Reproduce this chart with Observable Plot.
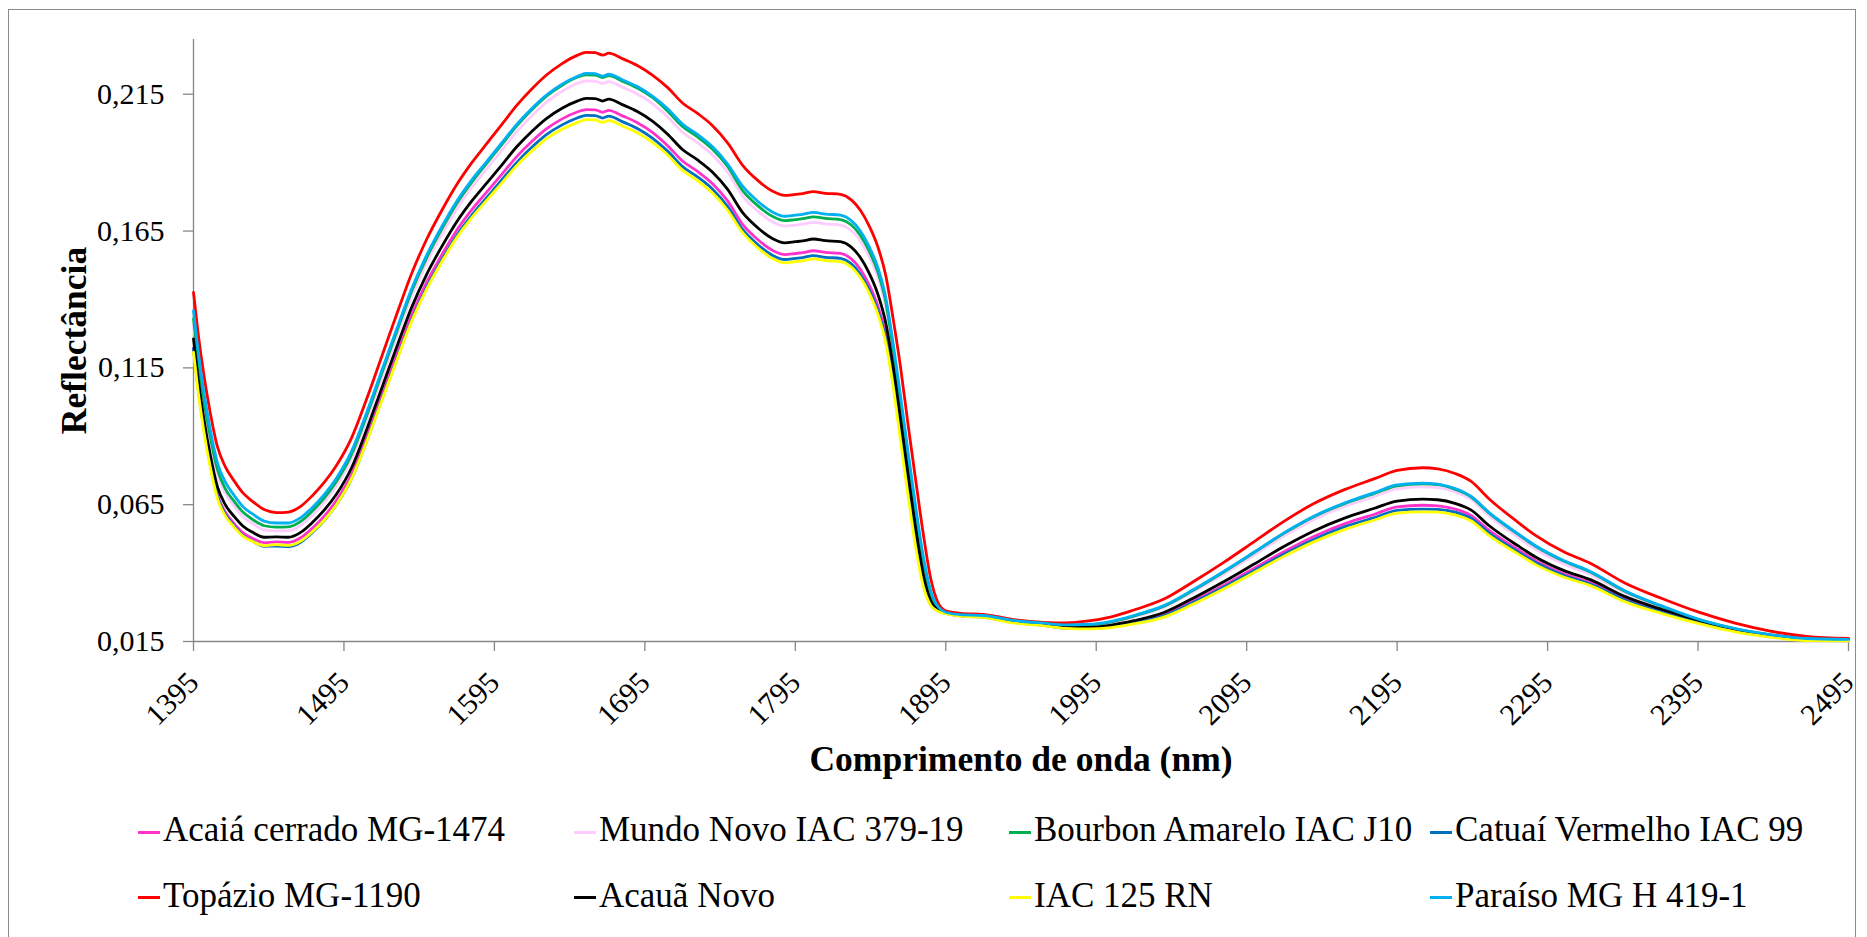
<!DOCTYPE html>
<html><head><meta charset="utf-8">
<script src="https://cdn.jsdelivr.net/npm/d3@7"></script>
<script src="https://cdn.jsdelivr.net/npm/@observablehq/plot@0.6"></script>
<style>
html,body{margin:0;padding:0;background:#fff;}
#wrap{position:relative;width:1867px;height:937px;overflow:hidden;font-family:"Liberation Serif","Times New Roman",serif;background:#fff;}
#frame{position:absolute;left:8px;top:9px;width:1848px;height:990px;border:1px solid #8a8a8a;box-sizing:border-box;pointer-events:none;}
#chart{position:absolute;left:0;top:0;}
.lg{position:absolute;font-size:35px;line-height:40px;white-space:nowrap;color:#000;}
.mk{position:absolute;height:3px;width:22px;}
</style></head>
<body>
<div id="wrap"><div id="chart"></div><div id="legend"></div><div id="frame"></div></div>
<script>
const wavelengths = [1395,1398,1402,1406,1411,1416,1422,1428,1434,1442,1450,1458,1466,1474,1482,1490,1500,1510,1520,1530,1540,1550,1560,1570,1580,1590,1600,1610,1620,1630,1640,1650,1656,1662,1667,1671,1680,1690,1700,1710,1720,1730,1740,1750,1760,1770,1780,1788,1795,1800,1807,1815,1825,1832,1838,1844,1850,1855,1860,1865,1870,1875,1880,1885,1890,1895,1905,1920,1940,1960,1975,1990,2005,2020,2040,2060,2080,2100,2120,2140,2160,2180,2195,2212,2222,2234,2244,2256,2275,2287,2306,2323,2347,2371,2395,2419,2443,2467,2495];

const seriesNames = ["Acaiá cerrado MG-1474","Mundo Novo IAC 379-19","Bourbon Amarelo IAC J10","Catuaí Vermelho IAC 99","Topázio MG-1190","Acauã Novo","IAC 125 RN","Paraíso MG H 419-1"];
const seriesColors = ["#FF33CC","#FFCCFF","#00B050","#0070C0","#FF0000","#000000","#FFFF00","#00B0F0"];

const acaia = [.1223,.1082,.0929,.0806,.0685,.0624,.0581,.0547,.0528,.0511,
 .0514,.0512,.0528,.0564,.0609,.0666,.0761,.0898,.1048,.1198,
 .1343,.1463,.1563,.1653,.1728,.1793,.1858,.1923,.1978,.2025,
 .2060,.2085,.2094,.2093,.2084,.2091,.2071,.2046,.2011,.1963,
 .1906,.1868,.1823,.1760,.1674,.1619,.1579,.1564,.1568,.1571,
 .1578,.1572,.1568,.1549,.1512,.1454,.1374,.1274,.1114,.0920,
 .0720,.0528,.0371,.0287,.0262,.0254,.0245,.0240,.0221,.0210,
 .0201,.0200,.0207,.0222,.0248,.0300,.0356,.0418,.0479,.0535,
 .0580,.0615,.0642,.0648,.0646,.0633,.0611,.0557,.0487,.0446,
 .0397,.0366,.0304,.0260,.0222,.0191,.0170,.0157,.0156];

const mundoNovo = [.1310,.1167,.1010,.0884,.0758,.0693,.0645,.0605,.0582,.0558,
 .0554,.0555,.0573,.0612,.0659,.0719,.0817,.0957,.1110,.1264,
 .1412,.1535,.1638,.1731,.1810,.1878,.1946,.2014,.2072,.2123,
 .2161,.2189,.2199,.2198,.2189,.2196,.2176,.2151,.2116,.2068,
 .2011,.1973,.1928,.1865,.1778,.1723,.1683,.1668,.1672,.1675,
 .1682,.1676,.1672,.1653,.1616,.1558,.1478,.1377,.1204,.1003,
 .0800,.0604,.0430,.0317,.0270,.0255,.0246,.0243,.0225,.0215,
 .0208,.0209,.0219,.0239,.0274,.0333,.0397,.0466,.0536,.0597,
 .0644,.0680,.0708,.0715,.0712,.0696,.0670,.0610,.0532,.0487,
 .0432,.0396,.0327,.0275,.0230,.0196,.0173,.0159,.0157];

const bourbon = [.1330,.1186,.1029,.0903,.0777,.0710,.0662,.0622,.0597,.0573,
 .0568,.0569,.0588,.0627,.0675,.0735,.0833,.0974,.1128,.1281,
 .1430,.1553,.1657,.1751,.1829,.1898,.1967,.2035,.2094,.2145,
 .2183,.2212,.2221,.2220,.2211,.2218,.2198,.2173,.2138,.2089,
 .2032,.1994,.1949,.1886,.1798,.1743,.1703,.1688,.1692,.1695,
 .1702,.1696,.1692,.1673,.1636,.1578,.1498,.1394,.1222,.1024,
 .0820,.0623,.0446,.0326,.0273,.0256,.0247,.0244,.0226,.0216,
 .0209,.0211,.0222,.0243,.0279,.0339,.0405,.0475,.0546,.0607,
 .0654,.0691,.0719,.0726,.0723,.0705,.0679,.0620,.0543,.0498,
 .0443,.0405,.0332,.0278,.0231,.0197,.0174,.0160,.0157];

const catuai = [.1220,.1079,.0925,.0801,.0678,.0616,.0572,.0536,.0517,.0498,
 .0499,.0497,.0512,.0548,.0593,.0650,.0744,.0881,.1031,.1180,
 .1325,.1444,.1544,.1634,.1708,.1773,.1838,.1902,.1957,.2004,
 .2038,.2063,.2073,.2072,.2063,.2070,.2050,.2025,.1990,.1943,
 .1886,.1848,.1803,.1740,.1656,.1601,.1561,.1546,.1550,.1553,
 .1560,.1554,.1550,.1531,.1494,.1436,.1356,.1256,.1096,.0900,
 .0701,.0512,.0362,.0284,.0261,.0253,.0244,.0239,.0220,.0209,
 .0199,.0198,.0204,.0218,.0244,.0294,.0349,.0410,.0470,.0524,
 .0569,.0603,.0629,.0634,.0633,.0622,.0601,.0547,.0479,.0439,
 .0391,.0361,.0300,.0257,.0220,.0189,.0169,.0156,.0155];

const topazio = [.1426,.1280,.1120,.0990,.0860,.0790,.0737,.0692,.0663,.0632,
 .0621,.0623,.0643,.0683,.0732,.0793,.0893,.1035,.1190,.1345,
 .1495,.1620,.1725,.1820,.1900,.1970,.2040,.2110,.2170,.2222,
 .2262,.2292,.2303,.2302,.2293,.2300,.2280,.2255,.2220,.2175,
 .2118,.2080,.2035,.1972,.1890,.1835,.1795,.1780,.1784,.1787,
 .1794,.1788,.1784,.1765,.1728,.1670,.1590,.1490,.1330,.1150,
 .0940,.0740,.0545,.0380,.0290,.0262,.0253,.0249,.0230,.0220,
 .0218,.0225,.0240,.0265,.0305,.0370,.0440,.0515,.0590,.0655,
 .0705,.0745,.0775,.0785,.0781,.0763,.0736,.0672,.0587,.0538,
 .0477,.0437,.0362,.0307,.0258,.0218,.0188,.0169,.0161];

const acauaNovo = [.1256,.1114,.0960,.0836,.0714,.0651,.0607,.0571,.0550,.0531,
 .0532,.0531,.0548,.0585,.0631,.0688,.0784,.0923,.1074,.1225,
 .1371,.1492,.1593,.1684,.1760,.1826,.1892,.1959,.2015,.2063,
 .2099,.2125,.2135,.2134,.2125,.2132,.2112,.2087,.2052,.2005,
 .1948,.1910,.1865,.1802,.1717,.1662,.1622,.1607,.1611,.1614,
 .1621,.1615,.1611,.1592,.1555,.1497,.1417,.1317,.1157,.0961,
 .0760,.0565,.0397,.0299,.0265,.0255,.0246,.0242,.0222,.0212,
 .0203,.0202,.0210,.0226,.0256,.0310,.0369,.0433,.0498,.0555,
 .0601,.0637,.0663,.0670,.0668,.0654,.0631,.0574,.0501,.0459,
 .0409,.0377,.0313,.0267,.0228,.0195,.0173,.0159,.0157];

const iac125 = [.1207,.1067,.0914,.0791,.0671,.0610,.0568,.0534,.0516,.0500,
 .0504,.0501,.0516,.0551,.0594,.0650,.0744,.0879,.1028,.1176,
 .1320,.1438,.1537,.1626,.1699,.1763,.1826,.1890,.1943,.1989,
 .2022,.2046,.2057,.2056,.2047,.2054,.2034,.2009,.1974,.1929,
 .1872,.1834,.1789,.1726,.1644,.1589,.1549,.1534,.1538,.1541,
 .1548,.1542,.1538,.1519,.1482,.1424,.1344,.1244,.1084,.0880,
 .0681,.0495,.0353,.0282,.0260,.0252,.0243,.0238,.0218,.0208,
 .0198,.0196,.0201,.0214,.0239,.0288,.0343,.0402,.0462,.0515,
 .0559,.0594,.0619,.0624,.0623,.0612,.0591,.0538,.0471,.0431,
 .0385,.0355,.0294,.0252,.0216,.0186,.0166,.0153,.0152];

const paraiso = [.1359,.1215,.1057,.0929,.0801,.0734,.0684,.0642,.0617,.0590,
 .0583,.0583,.0602,.0640,.0688,.0747,.0845,.0985,.1138,.1291,
 .1439,.1562,.1666,.1759,.1837,.1905,.1973,.2041,.2099,.2149,
 .2187,.2215,.2226,.2225,.2216,.2223,.2203,.2178,.2143,.2098,
 .2041,.2003,.1958,.1895,.1814,.1759,.1719,.1704,.1708,.1711,
 .1718,.1712,.1708,.1689,.1652,.1594,.1514,.1410,.1240,.1045,
 .0840,.0643,.0463,.0335,.0276,.0257,.0248,.0245,.0227,.0217,
 .0211,.0213,.0224,.0245,.0281,.0341,.0407,.0477,.0548,.0609,
 .0656,.0694,.0722,.0729,.0725,.0708,.0681,.0622,.0545,.0500,
 .0445,.0407,.0334,.0280,.0232,.0198,.0175,.0161,.0158];

const xTicks = [1395,1495,1595,1695,1795,1895,1995,2095,2195,2295,2395,2495];
const yTicks = [0.015,0.065,0.115,0.165,0.215];
const yTickLabels = ["0,015","0,065","0,115","0,165","0,215"];
const xTitle = "Comprimento de onda (nm)";
const yTitle = "Reflectância";

const seriesValues = [acaia, mundoNovo, bourbon, catuai, topazio, acauaNovo, iac125, paraiso];
const rows = seriesNames.flatMap((name, i) => wavelengths.map((w, j) => ({name, nm: w, r: seriesValues[i][j]})));

const axisGray = "#868686";
const chart = Plot.plot({
  width: 1867,
  height: 795,
  marginLeft: 193,
  marginRight: 19,
  marginTop: 39,
  marginBottom: 154,
  style: {fontFamily: '"Liberation Serif", "Times New Roman", serif', background: "transparent", color: "black"},
  x: {domain: [1395, 2495]},
  y: {domain: [0.015, 0.235]},
  marks: [
    Plot.ruleX([1395], {stroke: axisGray, strokeWidth: 1.3}),
    Plot.ruleY([0.015], {stroke: axisGray, strokeWidth: 1.3}),
    Plot.axisY({ticks: yTicks, tickSize: 10, tickPadding: 19, tickFormat: d => yTickLabels[yTicks.indexOf(d)], fontSize: 30, stroke: axisGray, fill: "black", label: null, strokeWidth: 1.3}),
    Plot.axisX({ticks: xTicks, tickSize: 10, tickFormat: () => "", stroke: axisGray, label: null, strokeWidth: 1.3}),
    Plot.text(xTicks, {x: d => d, frameAnchor: "bottom", text: d => String(d), rotate: -45, textAnchor: "end", lineAnchor: "middle", dy: 36, fontSize: 30, fill: "black"}),
    Plot.text([yTitle], {frameAnchor: "left", text: d => d, rotate: -90, dx: -119, textAnchor: "middle", lineAnchor: "middle", fontSize: 35.5, fontWeight: "bold", fill: "black"}),
    Plot.text([xTitle], {frameAnchor: "bottom", text: d => d, dy: 118, textAnchor: "middle", lineAnchor: "middle", fontSize: 35.5, fontWeight: "bold", fill: "black"}),
    ...seriesNames.map((name, i) => Plot.line(rows.filter(d => d.name === name), {x: "nm", y: "r", stroke: seriesColors[i], strokeWidth: 2.8, curve: "monotone-x"}))
  ]
});
document.getElementById("chart").appendChild(chart);

const legendTextLeft = [163, 599, 1034, 1455];
const legend = document.getElementById("legend");
seriesNames.forEach((name, i) => {
  const row = Math.floor(i / 4), col = i % 4;
  const textLeft = legendTextLeft[col];
  const t = document.createElement("div");
  t.className = "lg";
  t.style.left = textLeft + "px";
  t.style.top = (810.3 + 65.5 * row) + "px";
  t.textContent = name;
  legend.appendChild(t);
  const m = document.createElement("div");
  m.className = "mk";
  m.style.background = seriesColors[i];
  m.style.left = (textLeft - 25) + "px";
  m.style.top = (830.5 + 65.5 * row) + "px";
  legend.appendChild(m);
});
</script>
</body></html>
